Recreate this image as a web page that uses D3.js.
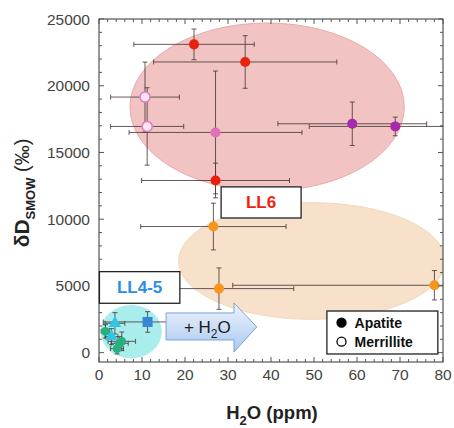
<!DOCTYPE html>
<html>
<head>
<meta charset="utf-8">
<script src="https://cdn.jsdelivr.net/npm/d3@7"></script>
<style>
body { margin: 0; background: #fff; }
svg text { font-family: "Liberation Sans", Arial, sans-serif; }
</style>
</head>
<body>
<svg id="canvas"></svg>
<script>
var width = 454,
	height = 428;

// measured points (H2O ppm, dD permil), with error half-widths
var pointKind = ["red", "red", "red", "pinkOpen", "pinkOpen", "pink", "purple", "purple",
	"orange", "orange", "orange", "blue", "cyan", "cyan", "green", "green", "green", "green"];
var pointH2O = [22.1, 34.0, 27.1, 10.7, 11.2, 27.1, 58.9, 68.9, 26.6, 27.9, 78.0, 11.3, 3.7, 2.9, 1.5, 4.8, 5.3, 4.2];
var pointH2OErr = [14.0, 21.3, 17.2, 8.0, 8.5, 20.1, 17.3, 20.0, 16.9, 17.4, 46.9, 10.3, 2.3, 1.5, 1.0, 2.0, 3.2, 1.5];
var pointDD = [23100, 21780, 12900, 19150, 16950, 16500, 17150, 16950, 9450, 4800, 5050, 2300, 2200, 1200, 1600, 700, 850, 300];
var pointDDErr = [1150, 1970, 1300, 2620, 2900, 4600, 1630, 700, 1750, 1550, 1100, 770, 800, 600, 500, 500, 700, 400];

// group fields (centre and radii in data units)
var fieldName = ["LL6", "LL6 low", "LL4-5"];
var fieldCx = [39.1, 49.5, 7.5];
var fieldCy = [18410, 6870, 1570];
var fieldRx = [31.9, 31.0, 7.1];
var fieldRy = [6290, 4370, 2000];

var xTicks = [0, 10, 20, 30, 40, 50, 60, 70, 80];
var yTicks = [0, 5000, 10000, 15000, 20000, 25000];
var legendLabels = ["Apatite", "Merrillite"];

var colors = {
	red: "#e8200c", pinkOpen: "#e27bbd", pink: "#e070b9", purple: "#a62aa9",
	orange: "#f8951d", blue: "#3a84d6", cyan: "#35c4e4", green: "#27b07e"
};
var fieldFill = ["#f1c3c3", "#f7e1cb", "#a9eded"];
var fieldStroke = ["#eaaaaa", "#f2d6ba", "none"];

var pLeft = 99, pRight = 443, pTop = 19, pBottom = 362;

var x = d3.scaleLinear().domain([0, 80]).range([pLeft, pRight]);
var y = d3.scaleLinear().domain([-700, 25000]).range([pBottom, pTop]);

var svg = d3.select("#canvas")
	.attr("width", width)
	.attr("height", height);

var defs = svg.append("defs");
defs.append("clipPath")
	.attr("id", "plotclip")
	.append("rect")
	.attr("x", pLeft).attr("y", pTop)
	.attr("width", pRight - pLeft).attr("height", pBottom - pTop);

var grad = defs.append("linearGradient")
	.attr("id", "arrowgrad")
	.attr("x1", 0).attr("y1", 0).attr("x2", 0).attr("y2", 1);
grad.append("stop").attr("offset", "0%").attr("stop-color", "#eef4fd");
grad.append("stop").attr("offset", "100%").attr("stop-color", "#a9c8f0");

var plot = svg.append("g").attr("clip-path", "url(#plotclip)");

// fields
plot.selectAll("ellipse")
	.data(fieldName)
	.enter()
	.append("ellipse")
	.attr("cx", function(d, i){ return x(fieldCx[i]); })
	.attr("cy", function(d, i){ return y(fieldCy[i]); })
	.attr("rx", function(d, i){ return x(fieldCx[i] + fieldRx[i]) - x(fieldCx[i]); })
	.attr("ry", function(d, i){ return y(fieldCy[i] - fieldRy[i]) - y(fieldCy[i]); })
	.attr("fill", function(d, i){ return fieldFill[i]; })
	.attr("stroke", function(d, i){ return fieldStroke[i]; })
	.attr("stroke-width", 1);

// error bars
var errColor = "#4d3c3c";
var cap = 2.5;
var err = plot.selectAll("g.err")
	.data(pointH2O)
	.enter()
	.append("g")
	.attr("class", "err")
	.attr("stroke", errColor)
	.attr("stroke-width", 1)
	.attr("stroke-opacity", 0.85);

err.each(function(d, i){
	var g = d3.select(this);
	var x0 = x(d - pointH2OErr[i]), x1 = x(d + pointH2OErr[i]), cx = x(d);
	var y0 = y(pointDD[i] - pointDDErr[i]), y1 = y(pointDD[i] + pointDDErr[i]), cy = y(pointDD[i]);
	g.append("line").attr("x1", x0).attr("x2", x1).attr("y1", cy).attr("y2", cy);
	g.append("line").attr("x1", x0).attr("x2", x0).attr("y1", cy - cap).attr("y2", cy + cap);
	g.append("line").attr("x1", x1).attr("x2", x1).attr("y1", cy - cap).attr("y2", cy + cap);
	g.append("line").attr("x1", cx).attr("x2", cx).attr("y1", y0).attr("y2", y1);
	g.append("line").attr("x1", cx - cap).attr("x2", cx + cap).attr("y1", y0).attr("y2", y0);
	g.append("line").attr("x1", cx - cap).attr("x2", cx + cap).attr("y1", y1).attr("y2", y1);
});

// points
var sym = svg.append("g");
sym.selectAll("path")
	.data(pointH2O)
	.enter()
	.append("path")
	.attr("transform", function(d, i){ return "translate(" + x(d) + "," + y(pointDD[i]) + ")"; })
	.attr("d", function(d, i){
		var k = pointKind[i];
		if (k == "blue") return d3.symbol().type(d3.symbolSquare).size(100)();
		if (k == "cyan") return d3.symbol().type(d3.symbolTriangle).size(70)();
		return d3.symbol().type(d3.symbolCircle).size(k == "green" ? 60 : 80)();
	})
	.attr("fill", function(d, i){ return pointKind[i] == "pinkOpen" ? "#fbe6f2" : colors[pointKind[i]]; })
	.attr("stroke", function(d, i){ return pointKind[i] == "pinkOpen" ? colors.pinkOpen : "none"; })
	.attr("stroke-width", 1.5);

// frame and ticks
var axes = svg.append("g").attr("stroke", "#555").attr("stroke-width", 1);
axes.append("rect")
	.attr("x", pLeft).attr("y", pTop)
	.attr("width", pRight - pLeft).attr("height", pBottom - pTop)
	.attr("fill", "none").attr("stroke", "#333");

var xMinor = d3.range(0, 81, 2);
var yMinor = d3.range(0, 25001, 1000);
xMinor.forEach(function(v){
	var len = (v % 10 == 0) ? 5 : 3;
	axes.append("line").attr("x1", x(v)).attr("x2", x(v)).attr("y1", pBottom).attr("y2", pBottom - len);
	axes.append("line").attr("x1", x(v)).attr("x2", x(v)).attr("y1", pTop).attr("y2", pTop + len);
});
yMinor.forEach(function(v){
	var len = (v % 5000 == 0) ? 5 : 3;
	axes.append("line").attr("x1", pLeft).attr("x2", pLeft + len).attr("y1", y(v)).attr("y2", y(v));
	axes.append("line").attr("x1", pRight).attr("x2", pRight - len).attr("y1", y(v)).attr("y2", y(v));
});

svg.selectAll("text.xt")
	.data(xTicks)
	.enter()
	.append("text")
	.attr("class", "xt")
	.attr("x", function(d){ return x(d); })
	.attr("y", pBottom + 18)
	.attr("text-anchor", "middle")
	.attr("font-size", 15.5)
	.attr("fill", "#444")
	.text(function(d){ return d; });

svg.selectAll("text.yt")
	.data(yTicks)
	.enter()
	.append("text")
	.attr("class", "yt")
	.attr("x", pLeft - 9)
	.attr("y", function(d){ return y(d) + 5.5; })
	.attr("text-anchor", "end")
	.attr("font-size", 15.5)
	.attr("fill", "#444")
	.text(function(d){ return d; });

// axis titles
var xt = svg.append("text")
	.attr("x", 272).attr("y", 419)
	.attr("text-anchor", "middle")
	.attr("font-size", 18.5).attr("font-weight", "bold").attr("fill", "#222");
xt.append("tspan").text("H");
xt.append("tspan").attr("font-size", 13).attr("dy", 6).text("2");
xt.append("tspan").attr("dy", -6).text("O (ppm)");

var yt = svg.append("text")
	.attr("transform", "translate(29,193) rotate(-90)")
	.attr("text-anchor", "middle")
	.attr("font-weight", "bold").attr("fill", "#222");
yt.append("tspan").attr("font-size", 21).text("δD");
yt.append("tspan").attr("font-size", 13).attr("dy", 6).text("SMOW");
yt.append("tspan").attr("font-size", 20).attr("dy", -6).attr("font-weight", "normal").text(" (‰)");

// labels
function labelBox(x0, x1, y0, y1, txt, col) {
	svg.append("rect")
		.attr("x", x(x0)).attr("y", y(y0))
		.attr("width", x(x1) - x(x0)).attr("height", y(y1) - y(y0))
		.attr("fill", "#fff").attr("stroke", "#222").attr("stroke-width", 1.3);
	svg.append("text")
		.attr("x", (x(x0) + x(x1)) / 2).attr("y", (y(y0) + y(y1)) / 2 + 6)
		.attr("text-anchor", "middle")
		.attr("font-size", 17).attr("font-weight", "bold").attr("fill", col)
		.text(txt);
}
labelBox(28.4, 47.0, 12420, 10090, "LL6", "#f21d10");
labelBox(0.1, 18.8, 6070, 3700, "LL4-5", "#2a8ee8");

// +H2O arrow
var arrow = [[15.6, 2975], [31.4, 2975], [31.4, 3720], [36.7, 1930], [31.4, 50], [31.4, 950], [15.6, 950]];
svg.append("path")
	.attr("d", d3.line().x(function(d){ return x(d[0]); }).y(function(d){ return y(d[1]); })(arrow) + "Z")
	.attr("fill", "url(#arrowgrad)")
	.attr("stroke", "#7ea3d6").attr("stroke-width", 1);
var at = svg.append("text")
	.attr("x", x(25.2)).attr("y", y(1930) + 6)
	.attr("text-anchor", "middle")
	.attr("font-size", 17).attr("fill", "#1a1a1a");
at.append("tspan").text("+ H");
at.append("tspan").attr("font-size", 12).attr("dy", 5).text("2");
at.append("tspan").attr("dy", -5).text("O");

// legend
svg.append("rect")
	.attr("x", x(53.0)).attr("y", y(3120))
	.attr("width", x(78.8) - x(53.0)).attr("height", y(-100) - y(3120))
	.attr("fill", "#fff").attr("stroke", "#222").attr("stroke-width", 1.3);
var leg = svg.selectAll("g.leg")
	.data(legendLabels)
	.enter()
	.append("g")
	.attr("class", "leg")
	.attr("transform", function(d, i){ return "translate(" + x(56.4) + "," + (y(2250) + i * 19) + ")"; });
leg.append("circle")
	.attr("r", 4.5)
	.attr("fill", function(d, i){ return i == 0 ? "#000" : "#fff"; })
	.attr("stroke", "#000").attr("stroke-width", 1.3);
leg.append("text")
	.attr("x", 13).attr("y", 5)
	.attr("font-size", 14).attr("font-weight", "bold").attr("fill", "#111")
	.text(function(d){ return d; });
</script>
</body>
</html>
